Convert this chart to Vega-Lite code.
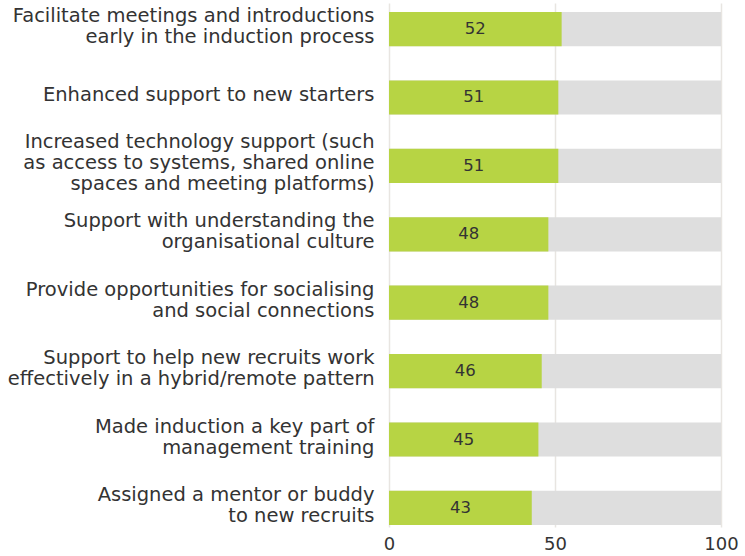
{
  "$schema": "https://vega.github.io/schema/vega-lite/v6.json",
  "width": 332,
  "height": 524,
  "autosize": {"type": "none"},
  "padding": {"left": 389, "top": 3, "right": 24, "bottom": 29},
  "background": "white",
  "config": {"view": {"stroke": null}, "font": "DejaVu Sans"},
  "data": {"values": [
    {"item": "Facilitate meetings and introductions|early in the induction process", "value": 52},
    {"item": "Enhanced support to new starters", "value": 51},
    {"item": "Increased technology support (such|as access to systems, shared online|spaces and meeting platforms)", "value": 51},
    {"item": "Support with understanding the|organisational culture", "value": 48},
    {"item": "Provide opportunities for socialising|and social connections", "value": 48},
    {"item": "Support to help new recruits work|effectively in a hybrid/remote pattern", "value": 46},
    {"item": "Made induction a key part of|management training", "value": 45},
    {"item": "Assigned a mentor or buddy|to new recruits", "value": 43}
  ]},
  "encoding": {
    "y": {"field": "item", "type": "nominal", "sort": null, "title": null,
      "scale": {"paddingInner": 0.5, "paddingOuter": 0.08, "align": 0.82},
      "axis": {"labelExpr": "split(datum.label, '|')", "labelFontSize": 19.5, "labelColor": "#333333", "labelPadding": 15, "labelLimit": 400, "ticks": false, "domain": false, "labelLineHeight": 21, "labelFont": "DejaVu Sans",
        "labelOffset": {"expr": "-2.5 - (length(split(datum.value, '|')) - 1) * 10.5"}}}
  },
  "layer": [
    {"mark": {"type": "bar", "color": "#dedede"},
     "encoding": {"x": {"datum": 100, "type": "quantitative", "scale": {"domain": [0, 100]}, "title": null,
        "axis": {"values": [0, 50, 100], "grid": true, "gridColor": "#e8e5e1", "gridWidth": 1.5, "ticks": false, "domain": false, "labelFontSize": 18, "labelColor": "#333333", "labelPadding": 8, "labelFlush": false, "labelFont": "DejaVu Sans"}},
       "x2": {"datum": 0}}},
    {"mark": {"type": "bar", "color": "#b7d444"},
     "encoding": {"x": {"field": "value", "type": "quantitative", "title": null}}},
    {"transform": [{"calculate": "datum.value / 2", "as": "mid"}],
     "mark": {"type": "text", "fontSize": 16.5, "color": "#333333", "font": "DejaVu Sans"},
     "encoding": {"x": {"field": "mid", "type": "quantitative", "title": null}, "text": {"field": "value", "type": "quantitative"}}}
  ]
}
